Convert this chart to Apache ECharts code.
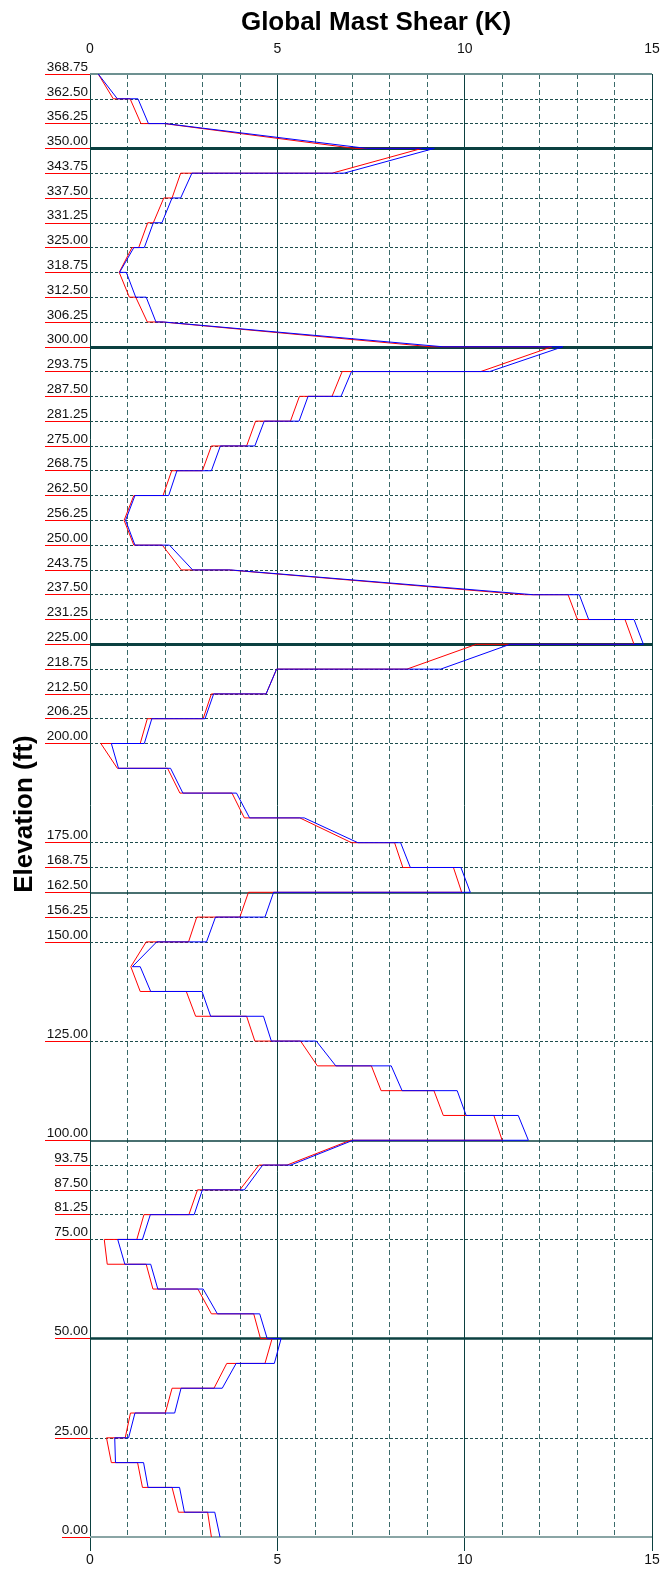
<!DOCTYPE html>
<html><head><meta charset="utf-8">
<script src="https://cdn.jsdelivr.net/npm/echarts@6/dist/echarts.min.js"></script>
<style>html,body{margin:0;padding:0;background:#fff}#c{width:669px;height:1585px}</style>
</head><body><div id="c"></div>
<script>
// Node elevations (ft), top to bottom
const nodeElev = [368.75,362.5,356.25,350,343.75,337.5,331.25,325,318.75,312.5,306.25,300,
  293.75,287.5,281.25,275,268.75,262.5,256.25,250,243.75,237.5,231.25,225,
  218.75,212.5,206.25,200,193.75,187.5,181.25,175,168.75,162.5,156.25,150,
  143.75,137.5,131.25,125,118.75,112.5,106.25,100,93.75,87.5,81.25,75,
  68.75,62.5,56.25,50,43.75,37.5,31.25,25,18.75,12.5,6.25,0];
// Shear (K): value where the curve arrives at each node, and where it leaves it
const redArrive = [0.22,0.62,1.36,7.06,6.46,2.19,1.69,1.30,0.78,1.05,1.53,9.10,
  10.43,6.46,5.35,4.18,3.00,1.95,0.91,1.17,2.44,11.60,13.01,14.52,
  8.46,4.70,3.02,1.34,0.73,2.40,4.12,6.98,8.35,9.92,4.00,2.63,
  1.09,1.34,2.82,4.40,6.07,7.77,9.43,11.00,5.26,4.00,2.64,1.25,
  0.46,1.68,3.24,4.55,4.67,3.31,2.01,0.94,0.57,1.40,2.36,3.24];
const redDepart = [0.22,1.07,1.98,8.86,2.42,1.97,1.54,1.12,0.83,1.22,1.92,12.33,
  6.73,5.59,4.42,3.24,2.18,1.17,0.91,1.93,3.70,12.76,14.28,10.31,
  4.98,3.24,1.53,0.29,2.07,3.79,5.60,8.13,9.70,4.23,2.85,1.50,
  1.09,2.57,4.18,5.62,7.51,9.18,10.78,6.95,4.51,2.87,1.44,0.38,
  1.50,2.88,4.37,4.86,3.65,2.19,1.08,0.44,1.27,2.19,3.14,3.24];
const blueArrive = [0.22,0.73,1.56,7.38,6.78,2.42,1.92,1.45,0.79,1.22,1.76,9.42,
  10.67,6.70,5.58,4.40,3.24,2.10,0.95,1.20,2.74,11.83,13.31,14.77,
  9.36,4.70,3.07,1.45,0.76,2.48,4.26,7.15,8.55,10.15,4.67,3.11,
  1.13,1.62,3.22,4.84,6.56,8.33,10.04,11.70,5.36,4.12,2.78,1.40,
  0.93,1.81,3.40,4.73,4.92,3.53,2.26,1.03,0.68,1.55,2.52,3.47];
const blueDepart = [0.22,1.28,2.02,9.19,2.72,2.19,1.69,1.17,0.97,1.50,1.96,12.62,
  6.98,5.82,4.65,3.48,2.32,1.20,0.95,2.12,3.75,13.06,14.52,11.21,
  4.98,3.30,1.65,0.57,2.15,3.91,5.72,8.29,9.90,4.90,3.35,1.78,
  1.34,2.99,4.63,6.04,8.04,9.80,11.43,7.02,4.61,3.00,1.61,0.74,
  1.62,3.02,4.53,5.10,3.90,2.43,1.20,0.66,1.43,2.39,3.33,3.47];
// Labelled elevations
const labelsLong = [368.75,362.5,356.25,350,343.75,337.5,331.25,325,318.75,312.5,306.25,300,
  293.75,287.5,281.25,275,268.75,262.5,256.25,250,243.75,237.5,231.25,225,
  218.75,212.5,206.25,200,175,168.75,162.5,156.25,150,125,100];
const labelsMid = [93.75,87.5,81.25,75,50,25];
const labelsShort = [0];
const guyHeavy = [350,300,225];
const guyMid = [50];
const guyLight = [162.5,100];
const dashedLevels = [362.5,356.25,343.75,337.5,331.25,325,318.75,312.5,306.25,
  293.75,287.5,281.25,275,268.75,262.5,256.25,250,243.75,237.5,231.25,
  218.75,212.5,206.25,200,175,168.75,156.25,150,125,93.75,87.5,81.25,75,25];
const topLevel = [368.75];
const bottomLevel = [0];
const xTicks = [0,5,10,15];

function path(a, d) {
  const pts = [];
  nodeElev.forEach((e, i) => { pts.push([a[i], e]); pts.push([d[i], e]); });
  return pts;
}
const FONT = "'Liberation Sans', Arial, sans-serif";
const dark = '#0b4040';

const ml = [];
guyHeavy.forEach(e => ml.push({yAxis: e, lineStyle: {color: dark, width: 3, type: 'solid'}}));
guyMid.forEach(e => ml.push({yAxis: e, lineStyle: {color: dark, width: 2.5, type: 'solid'}}));
guyLight.forEach(e => ml.push({yAxis: e, lineStyle: {color: dark, width: 1.5, type: 'solid'}}));
dashedLevels.forEach(e => ml.push({yAxis: e, lineStyle: {color: '#1d4d4d', width: 1, type: [3, 2]}}));
topLevel.forEach(e => ml.push({yAxis: e, lineStyle: {color: '#6d9191', width: 2, type: 'solid'}}));
bottomLevel.forEach(e => ml.push({yAxis: e, lineStyle: {color: '#8aa5a5', width: 2, type: 'solid'}}));

function yAx(vals, len) {
  return {
    type: 'value', min: 0, max: 368.75, position: 'left',
    axisLine: {show: false},
    axisTick: {show: true, customValues: vals, length: len, lineStyle: {color: '#ff0000', width: 1}},
    axisLabel: {show: true, customValues: vals, formatter: v => Number(v).toFixed(2),
      verticalAlign: 'bottom', margin: 2, fontSize: 13.5, color: '#111', fontFamily: FONT},
    splitLine: {show: false}
  };
}

const chart = echarts.init(document.getElementById('c'), null, {renderer: 'canvas'});
chart.setOption({
  animation: false,
  backgroundColor: '#fff',
  title: {text: 'Global Mast Shear (K)', left: 371, textAlign: 'center', top: 5,
    textStyle: {fontSize: 26, fontWeight: 'bold', color: '#000', fontFamily: FONT}},
  graphic: [{type: 'text', x: 25, y: 814, rotation: Math.PI / 2, silent: true,
    style: {text: 'Elevation (ft)', fontSize: 26, fontWeight: 'bold', fontFamily: FONT,
      fill: '#000', align: 'center', verticalAlign: 'middle'}}],
  grid: {left: 90, right: 17, top: 74, bottom: 48},
  xAxis: [
    {type: 'value', position: 'top', min: 0, max: 15, interval: 5,
      axisLine: {show: false},
      axisTick: {show: true, length: 14, lineStyle: {color: dark}},
      axisLabel: {margin: 18, fontSize: 14, color: '#111', fontFamily: FONT},
      splitLine: {show: true, lineStyle: {color: dark, width: 1}},
      minorTick: {show: false, splitNumber: 5},
      minorSplitLine: {show: true, lineStyle: {color: '#3a6a6a', width: 1, type: [5, 3]}}},
    {type: 'value', position: 'bottom', min: 0, max: 15, interval: 5,
      axisLine: {show: false},
      axisTick: {show: true, length: 14, lineStyle: {color: dark}},
      axisLabel: {margin: 16, fontSize: 14, color: '#111', fontFamily: FONT},
      splitLine: {show: false}}
  ],
  yAxis: [yAx(labelsLong, 45), yAx(labelsMid, 35), yAx(labelsShort, 28)],
  series: [
    {type: 'line', name: 'grid', data: [], silent: true, z: 1,
      markLine: {silent: true, symbol: ['none', 'none'], label: {show: false}, z: 1, animation: false, data: ml}},
    {type: 'line', name: 'red', data: path(redArrive, redDepart), showSymbol: false, symbol: 'none',
      lineStyle: {color: '#ff0000', width: 1}, z: 3, silent: true},
    {type: 'line', name: 'blue', data: path(blueArrive, blueDepart), showSymbol: false, symbol: 'none',
      lineStyle: {color: '#0000ff', width: 1}, z: 4, silent: true}
  ]
});
</script>
</body></html>
